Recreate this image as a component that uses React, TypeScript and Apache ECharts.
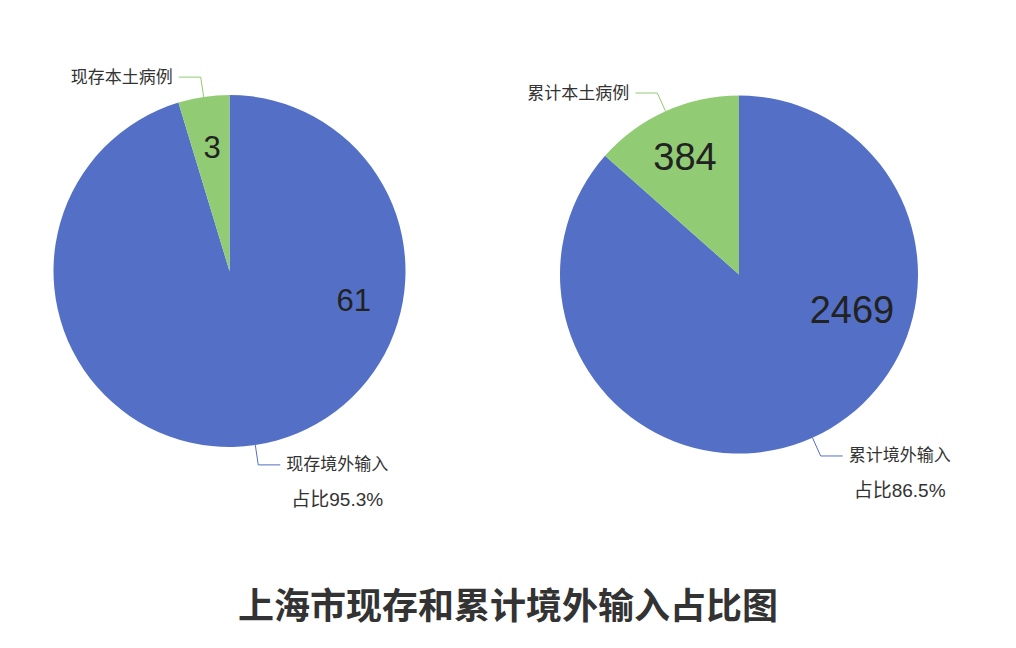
import React, { useEffect, useRef } from "react";
import * as echarts from "echarts";

// ---- data ----
const leftNames = ["现存境外输入", "现存本土病例"];
const leftValues = [61, 3];
const rightNames = ["累计境外输入", "累计本土病例"];
const rightValues = [2469, 384];
const titleText = "上海市现存和累计境外输入占比图";
const pctPrefix = "占比";

const FONT = '"Liberation Sans", Arial, "Noto Sans CJK SC", sans-serif';
const COLORS = ["#5470c6", "#91cc75"];

// label nudges for inside values (styling)
const leftInsideOffsets = [[111, -61], [-4, -33]];
const rightInsideOffsets = [[75, -49], [-16, -33]];

function buildSeries(
  names: string[],
  values: number[],
  center: [number, number],
  radius: number,
  insideOffsets: number[][],
  insideFont: number
) {
  const total = values.reduce((a, b) => a + b, 0);
  const outerData = names.map((n, i) => {
    const isMain = i === 0;
    const pct = ((values[i] / total) * 100).toFixed(1);
    return {
      name: n,
      value: values[i],
      itemStyle: { color: COLORS[i] },
      label: isMain
        ? {
            formatter: `{n|${n}}\n{p|${pctPrefix}${pct}%}`,
            padding: [50, 0, 0, 0],
          }
        : { formatter: `{n|${n}}` },
    };
  });
  const innerData = names.map((n, i) => ({
    name: n,
    value: values[i],
    label: { offset: insideOffsets[i] },
  }));
  return [
    {
      type: "pie",
      center,
      radius,
      startAngle: 90,
      clockwise: true,
      avoidLabelOverlap: false,
      silent: true,
      label: {
        show: true,
        position: "outside",
        distanceToLabelLine: 6,
        color: "#333",
        fontFamily: FONT,
        rich: {
          n: { fontSize: 17, lineHeight: 20, color: "#333", fontFamily: FONT, align: "center" },
          p: { fontSize: 19, lineHeight: 50, color: "#333", fontFamily: FONT, align: "center" },
        },
      },
      labelLine: { show: true, length: 20, length2: 22, smooth: false },
      data: outerData,
    },
    {
      type: "pie",
      center,
      radius,
      startAngle: 90,
      clockwise: true,
      avoidLabelOverlap: false,
      silent: true,
      itemStyle: { color: "rgba(0,0,0,0)" },
      label: {
        show: true,
        position: "inside",
        formatter: "{c}",
        color: "#222",
        fontSize: insideFont,
        fontFamily: FONT,
      },
      labelLine: { show: false },
      data: innerData,
    },
  ];
}

export default function App() {
  const ref = useRef<HTMLDivElement>(null);
  useEffect(() => {
    document.body.style.margin = "0";
    if (!ref.current) return;
    const chart = echarts.init(ref.current, undefined, { renderer: "svg" });
    chart.setOption({
      animation: false,
      backgroundColor: "#ffffff",
      title: {
        text: titleText,
        left: "center",
        top: 580,
        textStyle: {
          fontSize: 36,
          fontWeight: "bold",
          color: "#333",
          fontFamily: '"Noto Sans CJK SC", sans-serif',
        },
      },
      series: [
        ...buildSeries(leftNames, leftValues, [229.5, 271], 176, leftInsideOffsets, 31),
        ...buildSeries(rightNames, rightValues, [739, 274.5], 179, rightInsideOffsets, 38),
      ],
    });
    return () => chart.dispose();
  }, []);
  return (
    <div
      ref={ref}
      style={{ position: "absolute", left: 0, top: 0, width: 1016, height: 648 }}
    />
  );
}
